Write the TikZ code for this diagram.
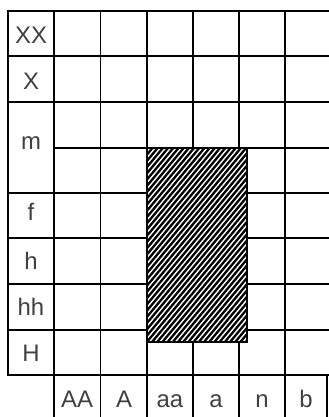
\documentclass[tikz,border=0pt]{standalone}
\usepackage{fontspec}
\setmainfont{Liberation Sans}
\begin{document}
\begin{tikzpicture}[x=1bp,y=-1bp,
  gridline/.style={line width=1.6bp},
  frameline/.style={line width=2.8bp},
  lab/.style={font=\fontsize{24}{28}\selectfont, text=black!75, inner sep=0pt}]
\useasboundingbox (0,0) rectangle (329,417);
% grid lines
\foreach \y in {11,56,102,148,193,238,284,330}
  \draw[gridline] (54,\y) -- (329,\y);
\foreach \x in {100.5,147,193,239,285}
  \draw[gridline] (\x,11) -- (\x,375);
% hatched block
\fill[white] (147,148) rectangle (247,342);
\begin{scope}
  \clip (147,148) rectangle (247,342);
  \foreach \x in {-30,-24.8,...,250}
    \draw[line width=2.3bp] (\x,342) -- ++(170,-204);
\end{scope}
\draw[line width=2bp] (147,148) rectangle (247,342);
% label column
\draw[frameline] (8,11) rectangle (54,375);
\foreach \y in {56,102,193,238,284,330}
  \draw[frameline] (8,\y) -- (54,\y);
\draw[frameline] (8,375) -- (329,375);
% bottom label row
\foreach \x in {54,100.5,147,193,239,285,327}
  \draw[gridline] (\x,375) -- (\x,417);
% row labels
\node[lab] (rXX) at (31,35) {XX};
\node[lab] (rX) at (31,81) {X};
\node[lab] (rm) at (31,143) {m};
\node[lab] (rf) at (31,212) {f};
\node[lab] (rh) at (31,261) {h};
\node[lab] (rhh) at (31,307) {hh};
\node[lab] (rH) at (31,353) {H};
% column labels
\node[lab] (cAA) at (77,399) {AA};
\node[lab] (cA) at (124,399) {A};
\node[lab,anchor=base] (caa) at (170,407) {aa};
\node[lab,anchor=base] (ca) at (216,407) {a};
\node[lab,anchor=base] (cn) at (262,407) {n};
\node[lab,anchor=base] (cb) at (306,407) {b};
\end{tikzpicture}
\end{document}
